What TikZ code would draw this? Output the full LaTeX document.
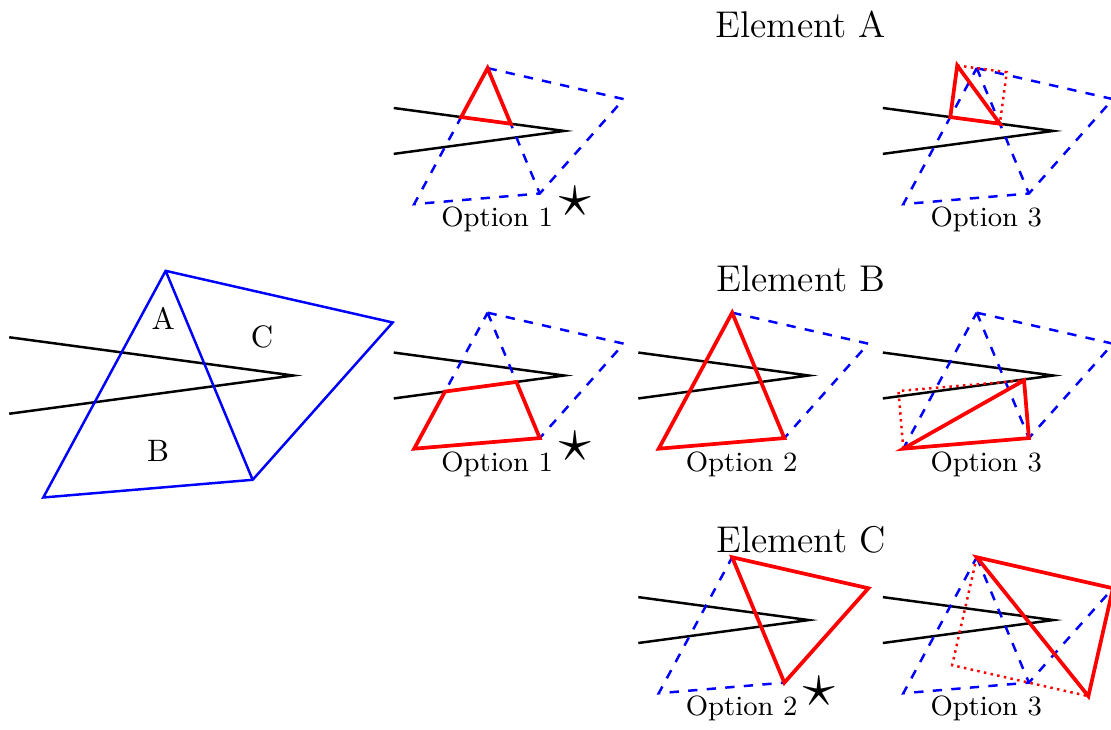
\documentclass[tikz,border=0pt]{standalone}
\usetikzlibrary{calc}

% corner points of the prism and the wedge, in the frame of the wedge tip
\newcommand{\prismpts}{%
  \coordinate (O) at (0,0);
  \coordinate (E1) at (-3.937,0.53);
  \coordinate (E2) at (-3.937,-0.53);
  \coordinate (T) at (-1.769,1.451);
  \coordinate (R) at (1.378,0.735);
  \coordinate (M) at (-0.563,-1.446);
  \coordinate (L) at (-3.465,-1.691);
  \coordinate (TLu) at (intersection of T--L and E1--O);
  \coordinate (TMu) at (intersection of T--M and E1--O);
  \coordinate (TLd) at (intersection of T--L and E2--O);
  \coordinate (TMd) at (intersection of T--M and E2--O);
}
\newcommand{\prismghost}{%
  \prismpts
  \draw[wedge] (E1) -- (O) -- (E2);
  \draw[ghost] (T) -- (R) -- (M) -- (L) -- cycle (T) -- (M);
}

\begin{document}
\begin{tikzpicture}[
    scale=0.8182,
    wedge/.style={thick},
    outline/.style={thick, blue},
    ghost/.style={thick, blue, dashed},
    pick/.style={very thick, red},
    alt/.style={thick, red, dash pattern=on 0.8pt off 1.4pt},
    title/.style={font=\large, anchor=base},
    opt/.style={font=\small, anchor=base},
    region/.style={font=\normalsize},
    best/.style={font=\huge}
  ]
  \useasboundingbox (0,0) rectangle (15.4,10.105);

  % the full prism
  \begin{scope}[shift={(4.065,4.9)}]
    \prismpts
    \draw[wedge] (E1) -- (O) -- (E2);
    \draw[outline] (T) -- (R) -- (M) -- (L) -- cycle (T) -- (M);
    \node[region] (labA) at (-1.802,0.786) {A};
    \node[region] (labC) at (-0.434,0.536) {C};
    \node[region] (labB) at (-1.875,-1.051) {B};
  \end{scope}

  \node[title] (elA) at (11.103,9.592) {Element A};
  \node[title] (elB) at (11.103,6.071) {Element B};
  \node[title] (elC) at (11.103,2.453) {Element C};

  % Element A
  \begin{scope}[shift={(7.82,8.29)}, scale=0.6]
    \prismghost
    \draw[pick] (T) -- (TLu) -- (TMu) -- cycle;
    \node[opt] (a1) at (-1.548,-2.211) {Option 1};
    \node[best] (a1s) at (0.254,-1.64) {$\star$};
  \end{scope}
  \begin{scope}[shift={(14.6,8.29)}, scale=0.6]
    \prismghost
    \coordinate (Tp) at ($(TLu)!(T)!(TMu)$);
    \coordinate (a3l) at ($(TLu)+(T)-(Tp)$);
    \coordinate (a3r) at ($(TMu)+(T)-(Tp)$);
    \draw[alt] (a3l) -- (a3r) -- (TMu);
    \draw[pick] (a3l) -- (TLu) -- (TMu) -- cycle;
    \node[opt] (a3) at (-1.548,-2.211) {Option 3};
  \end{scope}

  % Element B
  \begin{scope}[shift={(7.82,4.9)}, scale=0.6]
    \prismghost
    \draw[pick] (L) -- (TLd) -- (TMd) -- (M) -- cycle;
    \node[opt] (b1) at (-1.548,-2.211) {Option 1};
    \node[best] (b1s) at (0.254,-1.64) {$\star$};
  \end{scope}
  \begin{scope}[shift={(11.21,4.9)}, scale=0.6]
    \prismghost
    \draw[pick] (T) -- (M) -- (L) -- cycle;
    \node[opt] (b2) at (-1.548,-2.211) {Option 2};
  \end{scope}
  \begin{scope}[shift={(14.6,4.9)}, scale=0.6]
    \prismghost
    \coordinate (Qp) at ($(L)!(TMd)!(M)$);
    \coordinate (b3l) at ($(L)+(TMd)-(Qp)$);
    \coordinate (b3r) at ($(M)+(TMd)-(Qp)$);
    \draw[alt] (L) -- (b3l) -- (b3r);
    \draw[pick] (L) -- (b3r) -- (M) -- cycle;
    \node[opt] (b3) at (-1.548,-2.211) {Option 3};
  \end{scope}

  % Element C
  \begin{scope}[shift={(11.21,1.51)}, scale=0.6]
    \prismghost
    \draw[pick] (T) -- (R) -- (M) -- cycle;
    \node[opt] (c2) at (-1.548,-2.211) {Option 2};
    \node[best] (c2s) at (0.254,-1.64) {$\star$};
  \end{scope}
  \begin{scope}[shift={(14.6,1.51)}, scale=0.6]
    \prismghost
    \coordinate (Mp) at ($(T)!(M)!(R)$);
    \coordinate (c3l) at ($(T)+(M)-(Mp)$);
    \coordinate (c3r) at ($(R)+(M)-(Mp)$);
    \draw[alt] (T) -- (c3l) -- (c3r);
    \draw[pick] (T) -- (R) -- (c3r) -- cycle;
    \node[opt] (c3) at (-1.548,-2.211) {Option 3};
  \end{scope}
\end{tikzpicture}
\end{document}
